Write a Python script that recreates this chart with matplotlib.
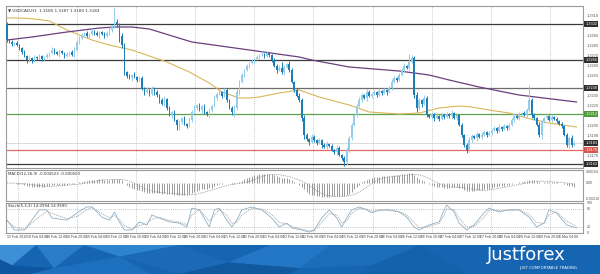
import numpy as np
import pandas as pd
import matplotlib
matplotlib.use("Agg")
import matplotlib.pyplot as plt
import matplotlib.transforms as mtransforms
from matplotlib.patches import Rectangle, Polygon

# ---------------- data ----------------
symbol_title = "\u25bc USDCAD,H1  1.3185 1.3187 1.3180 1.3183"
macd_title = "MACD(12,26,9) -0.000523 -0.000500"
stoch_title = "Stoch(5,3,3) 14.0994 14.9590"

first_open = 1.3302
closes = [
    1.3286, 1.3284, 1.3282, 1.3283, 1.3281, 1.3278,
    1.3274, 1.3270, 1.3266, 1.3268,
    1.3265, 1.3269, 1.3268, 1.3270, 1.3267, 1.3269,
    1.3271, 1.3273, 1.3276, 1.3274, 1.3272, 1.3275, 1.3273, 1.3270, 1.3272, 1.3274, 1.3271, 1.3276,
    1.3284, 1.3288,
    1.3291, 1.3293, 1.3290, 1.3292, 1.3295, 1.3293, 1.3291, 1.3294, 1.3292, 1.3290, 1.3293, 1.3296,
    1.3299, 1.3304, 1.3301,
    1.3290, 1.3281,
    1.3254,
    1.3250, 1.3248, 1.3251, 1.3249, 1.3246, 1.3248,
    1.3238, 1.3234,
    1.3236, 1.3232, 1.3238, 1.3234, 1.3231,
    1.3226, 1.3222, 1.3227,
    1.3218, 1.3211, 1.3214, 1.3206, 1.3201,
    1.3204, 1.3208, 1.3202, 1.3200, 1.3206,
    1.3214, 1.3218, 1.3221, 1.3216, 1.3220, 1.3214,
    1.3212, 1.3216, 1.3220,
    1.3228, 1.3232, 1.3234, 1.3230, 1.3236,
    1.3226, 1.3218, 1.3214, 1.3218,
    1.3234, 1.3244, 1.3251, 1.3256,
    1.3260, 1.3263, 1.3265, 1.3267,
    1.3269, 1.3271, 1.3272, 1.3270, 1.3273, 1.3271,
    1.3266, 1.3260, 1.3256, 1.3258,
    1.3254, 1.3259, 1.3262, 1.3256,
    1.3244, 1.3236, 1.3230, 1.3226,
    1.3208, 1.3191,
    1.3187, 1.3184, 1.3189, 1.3186,
    1.3183, 1.3186, 1.3181, 1.3179, 1.3182, 1.3180,
    1.3176, 1.3174, 1.3178, 1.3171, 1.3168, 1.3164,
    1.3176, 1.3188, 1.3201, 1.3211, 1.3220, 1.3226,
    1.3231, 1.3228, 1.3234, 1.3230,
    1.3232, 1.3234, 1.3231, 1.3235, 1.3233, 1.3236, 1.3234, 1.3238,
    1.3244, 1.3248, 1.3246, 1.3251,
    1.3256, 1.3260, 1.3258, 1.3264, 1.3268,
    1.3231, 1.3218,
    1.3226, 1.3222, 1.3228,
    1.3211, 1.3209, 1.3212, 1.3208, 1.3210, 1.3207, 1.3211, 1.3209,
    1.3212, 1.3210, 1.3213, 1.3208, 1.3211,
    1.3201, 1.3191, 1.3181, 1.3176, 1.3186,
    1.3190, 1.3188, 1.3192, 1.3189, 1.3191, 1.3194, 1.3191, 1.3193,
    1.3196, 1.3198, 1.3195, 1.3199, 1.3197, 1.3200, 1.3198, 1.3201,
    1.3206, 1.3210, 1.3208, 1.3212,
    1.3213, 1.3211, 1.3216,
    1.3226, 1.3211,
    1.3208, 1.3201, 1.3191, 1.3204, 1.3208,
    1.3210, 1.3206, 1.3209, 1.3207, 1.3205, 1.3202,
    1.3200, 1.3191, 1.3181, 1.3188,
    1.3181, 1.3183,
]
# wick lengths in pips above body top / below body bottom
upper_wicks = [
    2, 1, 2, 1, 2, 1,  1, 2, 1, 2,  1, 2, 1, 2, 1, 1,
    2, 1, 3, 2, 1, 2, 1, 1, 2, 1, 2, 3,  3, 2,
    2, 1, 2, 1, 3, 1, 2, 1, 1, 2, 2, 3,  2, 14, 3,  2, 3,  2,
    1, 2, 1, 3, 1, 2,  2, 1,  3, 1, 2, 1, 2,  1, 2, 3,  1, 2, 1, 2, 1,
    2, 1, 2, 1, 3,  2, 3, 1, 2, 1, 2,  1, 2, 1,  3, 2, 4, 1, 2,  2, 1, 2, 3,
    3, 2, 2, 1,  2, 1, 2, 1,  2, 1, 3, 1, 2, 1,  1, 2, 2, 3,  6, 2, 1, 3,
    2, 1, 2, 3,  2, 3,  2, 1, 3, 2,  1, 2, 1, 2, 3, 1,  2, 1, 3, 2, 1, 2,
    3, 2, 2, 1, 2, 3,  2, 1, 3, 2,  1, 2, 1, 3, 1, 2, 1, 2,  3, 2, 1, 2,
    2, 3, 1, 8, 3,  2, 3,  2, 1, 3,  2, 1, 2, 1, 3, 1, 2, 1,  2, 1, 3, 1, 2,
    1, 2, 1, 2, 3,  2, 1, 2, 1, 3, 2, 1, 2,  1, 2, 1, 3, 1, 2, 1, 2,
    2, 3, 1, 2,  1, 2, 2,  15, 2,  2, 1, 3, 2, 1,  2, 1, 3, 1, 2, 1,  2, 1, 2, 2,  3, 2,
]
lower_wicks = [
    2, 1, 2, 2, 1, 2,  2, 1, 3, 2,  2, 1, 2, 1, 2, 1,
    1, 2, 1, 2, 1, 3, 1, 2, 1, 2, 1, 2,  1, 2,
    1, 2, 1, 2, 1, 2, 1, 3, 1, 2, 1, 2,  2, 1, 2,  6, 3,  3,
    2, 1, 3, 1, 2, 1,  2, 3,  1, 2, 1, 3, 2,  3, 1, 2,  2, 1, 3, 1, 5,
    5, 2, 1, 2, 1,  2, 1, 2, 1, 3, 2,  2, 3, 2,  1, 2, 1, 2, 1,  2, 1, 3, 5,
    2, 3, 1, 2,  1, 2, 1, 2,  1, 2, 1, 2, 1, 2,  2, 1, 3, 1,  2, 3, 1, 2,
    1, 2, 1, 2,  3, 4,  2, 3, 1, 2,  2, 1, 3, 1, 2, 1,  1, 2, 3, 1, 2, 4,
    3, 2, 2, 1, 2, 1,  2, 1, 3, 1,  2, 1, 2, 1, 2, 1, 3, 1,  2, 1, 2, 1,
    1, 2, 1, 2, 1,  3, 4,  2, 3, 1,  2, 1, 2, 3, 1, 2, 1, 2,  1, 2, 3, 1, 2,
    1, 2, 2, 3, 2,  2, 1, 3, 1, 2, 1, 2, 1,  2, 1, 2, 1, 2, 1, 2, 2,
    1, 2, 1, 2,  2, 1, 2,  2, 3,  2, 1, 2, 4, 1,  2, 1, 2, 1, 2, 1,  2, 1, 2, 3,  2, 1,
]

# moving averages (sampled at bar indices)
ma_fast_idx = [0, 5, 11, 17, 24, 34, 41, 50, 57, 64, 73, 81, 86, 93, 97, 101, 109, 117,
               125, 137, 145, 157, 165, 173, 181, 186, 193, 201, 208, 217, 228]
ma_fast_val = [1.3308, 1.3308, 1.3307, 1.3305, 1.3296, 1.3286, 1.3281, 1.3276, 1.3270,
               1.3264, 1.3254, 1.3243, 1.3234, 1.3228, 1.3228, 1.3229, 1.3233, 1.3236,
               1.3229, 1.3221, 1.3214, 1.3212, 1.3213, 1.3218, 1.3220, 1.3219, 1.3216,
               1.3213, 1.3208, 1.3203, 1.3199]
ma_slow_idx = [0, 10, 24, 37, 43, 50, 57, 74, 97, 117, 122, 137, 157, 169, 177, 189, 205, 228]
ma_slow_val = [1.3286, 1.3289, 1.3294, 1.3298, 1.3299, 1.3299, 1.3297, 1.3284, 1.3276,
               1.3269, 1.3266, 1.3259, 1.3255, 1.3251, 1.3246, 1.3239, 1.3231, 1.3224]

# stochastic (5,3,3) read from the sub-window, sampled at bar indices
stoch_idx = [0, 3, 7, 13, 16, 18, 24, 28, 32, 34,
             38, 41, 43, 45, 47, 50, 53, 56, 58, 61,
             65, 69, 72, 74, 77, 81, 83, 85, 88, 90,
             92, 94, 98, 102, 106, 109, 112, 114, 118, 121,
             123, 126, 129, 132, 134, 136, 138, 141, 144, 146,
             149, 153, 157, 160, 163, 165, 169, 173, 175, 176,
             179, 181, 184, 187, 191, 193, 197, 201, 205, 209,
             212, 215, 217, 220, 224, 228]
stoch_main = [43, 10, 10, 77, 77, 50, 43, 67, 87, 87,
              53, 43, 70, 37, 10, 10, 37, 27, 60, 50,
              37, 33, 20, 83, 77, 20, 77, 83, 43, 20,
              43, 77, 87, 77, 50, 20, 33, 17, 10, 3,
              10, 50, 77, 50, 20, 50, 77, 87, 77, 67,
              77, 77, 70, 53, 20, 10, 27, 37, 77, 93,
              70, 33, 10, 27, 67, 83, 70, 77, 77, 53,
              20, 33, 77, 67, 27, 17]
stoch_signal = [40, 20, 12, 55, 72, 65, 48, 55, 78, 85,
                65, 50, 58, 45, 25, 12, 25, 30, 45, 52,
                42, 36, 28, 60, 78, 40, 60, 78, 60, 32,
                35, 60, 82, 80, 62, 35, 30, 22, 13, 7,
                8, 35, 65, 60, 35, 40, 65, 82, 80, 72,
                75, 76, 72, 60, 35, 18, 22, 32, 60, 80,
                78, 50, 20, 22, 52, 75, 75, 76, 77, 62,
                35, 32, 60, 70, 40, 22]

levels_dark = [1.3302, 1.3266, 1.3162]
level_gray = 1.3238
level_green = 1.3212
level_red = 1.3176
bid_price = 1.3183
price_ticks = [1.3310, 1.3300, 1.3290, 1.3280, 1.3270, 1.3260, 1.3250, 1.3240, 1.3230,
               1.3220, 1.3210, 1.3200, 1.3190, 1.3180, 1.3170, 1.3160]

time_labels = ["15 Feb 2019"]
for d in ["18 Feb", "19 Feb", "20 Feb", "21 Feb", "22 Feb", "25 Feb", "26 Feb", "27 Feb", "28 Feb"]:
    for h in ["04:00", "12:00", "20:00"]:
        time_labels.append(f"{d} {h}")
time_labels.append("1 Mar 04:00")

# ---------------- figure ----------------
W, H = 600, 274
fig = plt.figure(figsize=(W / 100, H / 100), dpi=100)
fig.patch.set_facecolor("white")
small_font = ["Liberation Sans Narrow", "Liberation Sans", "DejaVu Sans"]


def ax_px(x0, y0, x1, y1):
    return fig.add_axes([x0 / W, 1 - y1 / H, (x1 - x0) / W, (y1 - y0) / H])


main = ax_px(6, 6, 583, 168)
mac = ax_px(6, 170, 583, 201)
sto = ax_px(6, 203, 583, 233)

closes_a = np.array(closes)
N = len(closes_a)
x = np.arange(N)
opens = np.r_[first_open, closes_a[:-1]]
highs = np.maximum(opens, closes_a) + np.array(upper_wicks) * 1e-4
lows = np.minimum(opens, closes_a) - np.array(lower_wicks) * 1e-4

XL = (-0.4, 230.6)
ppb = 577 / (XL[1] - XL[0])
grid_pos = [(12 + 59.1 * j) / ppb - 0.4 for j in range(10)]
label_pos = [(1 + 19.7 * k) / ppb - 0.4 for k in range(len(time_labels))]

border = "#9a9a9a"
for a in (main, mac, sto):
    a.set_xlim(*XL)
    a.set_xticks([])
    a.set_yticks([])
    for s in a.spines.values():
        s.set_color(border)
        s.set_linewidth(0.8)
    for g in grid_pos:
        a.axvline(g, color="#b5b5b5", lw=0.6, ls=(0, (1, 1.5)), zorder=0)

# --- main price panel ---
main.set_ylim(1.3158, 1.3320)
bull_c, bear_c = "#92cdea", "#1f7db6"
cols = np.where(closes_a >= opens, bull_c, bear_c)
main.vlines(x, lows, highs, colors=cols, lw=0.7, zorder=3)
body = np.maximum(np.abs(closes_a - opens), 0.00006)
main.bar(x, body, bottom=np.minimum(opens, closes_a), width=0.62, color=cols,
         linewidth=0, zorder=4)

main.plot(ma_fast_idx, ma_fast_val, color="#d9b65a", lw=0.8, zorder=2)
main.plot(ma_slow_idx, ma_slow_val, color="#6a3f7e", lw=0.9, zorder=2)

for lv in levels_dark:
    main.axhline(lv, color="#3a3a3a", lw=0.9, zorder=1)
main.axhline(level_gray, color="#6d6d6d", lw=0.9, zorder=1)
main.axhline(level_green, color="#5fa04a", lw=0.9, zorder=1)
main.axhline(level_red, color="#e46a66", lw=0.9, zorder=1)
main.axhline(bid_price, color="#d4d4d4", lw=0.6, zorder=1)

tr = mtransforms.blended_transform_factory(main.transAxes, main.transData)
boxes = [(v, "#2e2e2e") for v in levels_dark] + [(level_gray, "#2e2e2e"), (bid_price, "#2e2e2e"),
                                                 (level_green, "#4f9a3a"), (level_red, "#d9534f")]
box_vals = [b[0] for b in boxes]
for p in price_ticks:
    if min(abs(p - b) for b in box_vals) < 0.00035:
        continue
    main.text(1.006, p, f"{p:.4f}", transform=tr, fontsize=2.8, color="#555555",
              va="center", ha="left", clip_on=False, family=small_font)
for v, c in boxes:
    main.text(1.004, v, f"{v:.4f}", transform=tr, fontsize=2.8, color="white",
              va="center", ha="left", clip_on=False, family=small_font,
              bbox=dict(boxstyle="square,pad=0.25", fc=c, ec="none"))
main.text(0.004, 0.985, symbol_title, transform=main.transAxes, fontsize=3.0,
          color="#333333", va="top", ha="left")

# --- MACD (computed from the closes) ---
s = pd.Series(closes_a)
macd = (s.ewm(span=12, adjust=False).mean() - s.ewm(span=26, adjust=False).mean()).values
signal = pd.Series(macd).rolling(9, min_periods=1).mean().values
unit = max(macd.max() / 10.0, -macd.min() / 14.0)
top, bot = 13 * unit, -18 * unit
mac.set_ylim(bot, top)
mac.vlines(x, 0, macd, colors="#8a8a8a", lw=0.6)
mac.plot(x, signal, color="#8a8a8a", lw=0.6, ls=(0, (1, 1.2)))
mac.text(0.004, 0.93, macd_title, transform=mac.transAxes, fontsize=2.8, color="#333333",
         va="top", ha="left")
trm = mtransforms.blended_transform_factory(mac.transAxes, mac.transData)
for v, t in [(top * 0.88, f"{top * 0.88:.5f}"), (0, "0.00"), (bot * 0.9, f"{bot * 0.9:.5f}")]:
    mac.text(1.005, v, t, transform=trm, fontsize=2.6, color="#555555", va="center",
             ha="left", clip_on=False, family=small_font)

# --- Stochastic ---
sto.set_ylim(0, 100)
for lvl in (20, 80):
    sto.axhline(lvl, color="#b0b0b0", lw=0.6, ls=(0, (1, 1.5)))
sto.plot(stoch_idx, stoch_main, color="#8fb0c6", lw=0.6)
sto.plot(stoch_idx, stoch_signal, color="#a8a8a8", lw=0.6, ls=(0, (1.5, 1)))
sto.text(0.004, 0.97, stoch_title, transform=sto.transAxes, fontsize=2.8, color="#333333",
         va="top", ha="left")
trs = mtransforms.blended_transform_factory(sto.transAxes, sto.transData)
for v in (100, 80, 20, 0):
    sto.text(1.006, v, str(v), transform=trs, fontsize=2.6, color="#555555", va="center",
             ha="left", clip_on=False, family=small_font)

trt = mtransforms.blended_transform_factory(sto.transData, sto.transAxes)
for pos, lab in zip(label_pos, time_labels):
    sto.text(pos, -0.08, lab, transform=trt, fontsize=2.5, color="#444444", va="top",
             ha="left", clip_on=False, family=small_font)

# --- banner ---
ban = ax_px(0, 245, 600, 274)
ban.set_xlim(0, 1)
ban.set_ylim(0, 1)
ban.axis("off")
ban.add_patch(Rectangle((0, 0), 1, 1, fc="#1565b2", ec="none"))
shapes = [
    ([(0, 1), (0.06, 1), (0.02, 0.3), (0, 0.5)], "#3d8fd6"),
    ([(0.06, 1), (0.14, 1), (0.09, 0.2)], "#2a7bc8"),
    ([(0.02, 0.3), (0.09, 0.2), (0.05, 0), (0, 0), (0, 0.5)], "#0f56a0"),
    ([(0.09, 0.2), (0.2, 0.6), (0.25, 0), (0.05, 0)], "#1d70bd"),
    ([(0.14, 1), (0.3, 1), (0.2, 0.6)], "#2f84cf"),
    ([(0.2, 0.6), (0.3, 1), (0.38, 0.4), (0.3, 0)], "#1a6ab7"),
    ([(0.38, 0.4), (0.45, 1), (0.55, 1), (0.5, 0.2)], "#2276c3"),
    ([(0.3, 0), (0.38, 0.4), (0.5, 0.2), (0.48, 0)], "#11599f"),
    ([(0.55, 1), (0.7, 1), (0.62, 0.3), (0.5, 0.2)], "#1b6cb9"),
    ([(0.62, 0.3), (0.7, 1), (0.78, 0), (0.6, 0)], "#1462ac"),
]
for pts, c in shapes:
    ban.add_patch(Polygon(pts, closed=True, fc=c, ec="none"))
ban.text(0.812, 0.64, "Justforex", fontsize=13, color="white", va="center", ha="left",
         family="DejaVu Sans")
ban.text(0.865, 0.2, "JUST COMFORTABLE TRADING", fontsize=2.8, color="white",
         va="center", ha="left")

fig.savefig("out.png", dpi=100)
